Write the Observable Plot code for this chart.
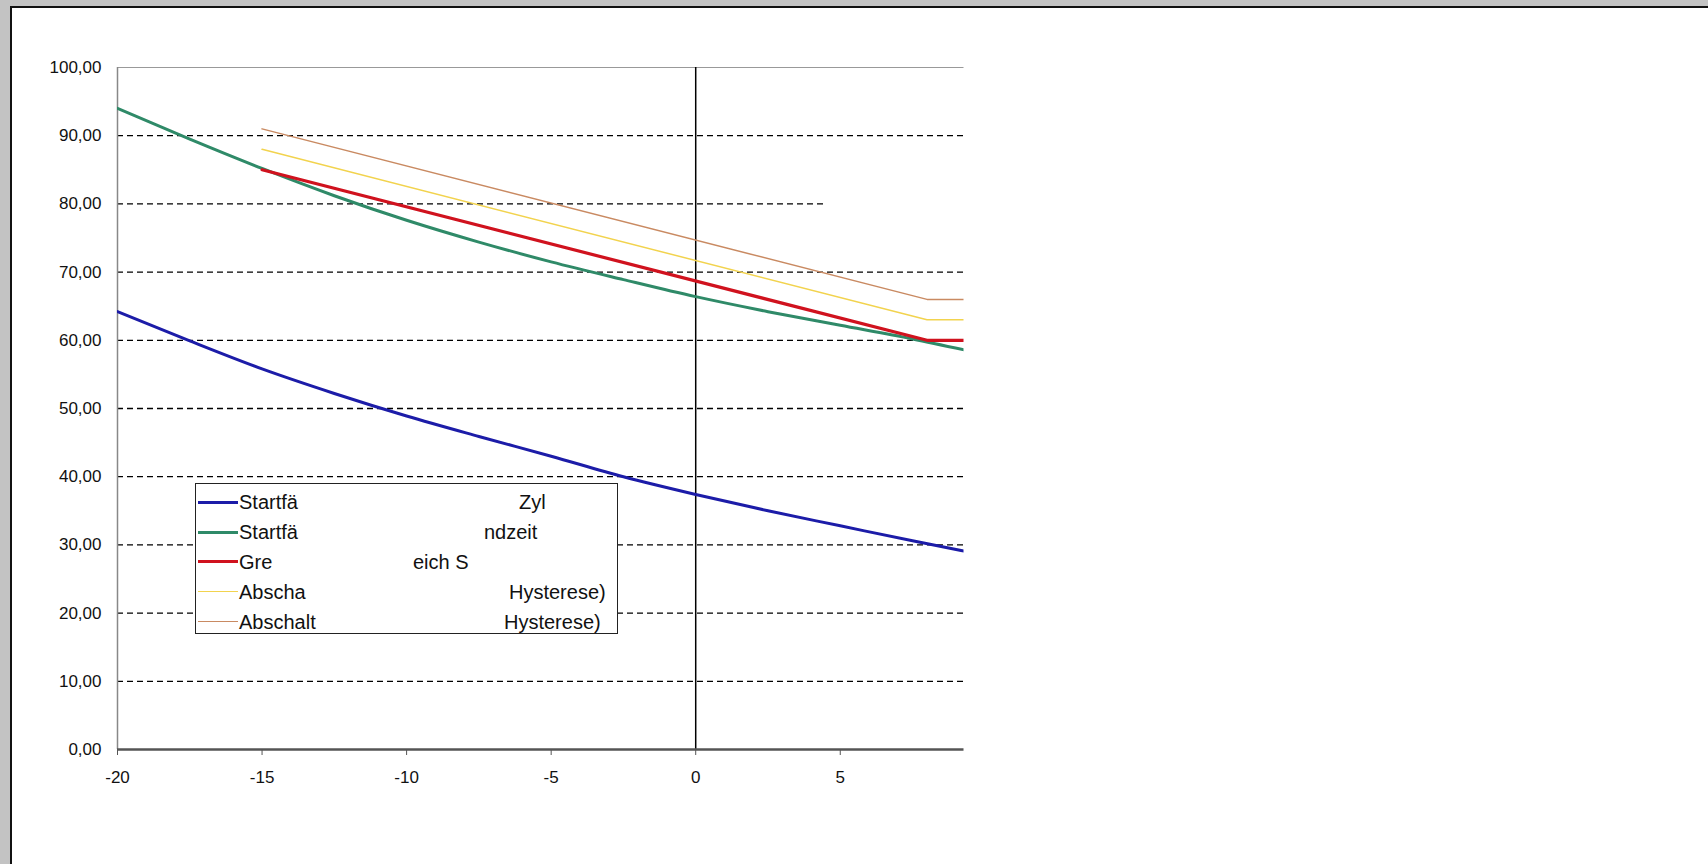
<!DOCTYPE html>
<html>
<head>
<meta charset="utf-8">
<script src="https://cdn.jsdelivr.net/npm/d3@7"></script>
<script src="https://cdn.jsdelivr.net/npm/@observablehq/plot@0.6"></script>
<style>
  html, body { margin: 0; padding: 0; background: #c3c3c3; overflow: hidden; }
  #panel { position: absolute; left: 10px; top: 6px; width: 1760px; height: 920px;
           background: #fff; border-left: 2px solid #111; border-top: 2px solid #111; }
  #chart { position: absolute; left: 12px; top: 8px; }
  #legend { position: absolute; left: 195px; top: 483px; width: 423px; height: 151px;
            box-sizing: border-box; border: 1.5px solid #222; background: #fff;
            font-family: "Liberation Sans", Arial, sans-serif; font-size: 20px; color: #111; }
  .row { position: absolute; left: 0; height: 24px; line-height: 24px; width: 100%; }
  .swatch { position: absolute; left: 2px; width: 40px; top: 12px; }
  .lt { position: absolute; left: 43px; top: 0; white-space: nowrap; }
  .rt { position: absolute; top: 0; white-space: nowrap; }
</style>
</head>
<body>
<div id="panel"></div>
<div id="chart"></div>
<div id="legend"></div>
<script>
// ---- data ----
const xs     = [-20, -17.5, -15, -12.5, -10, -7.5, -5, -2.5, 0, 2.5, 5, 7.5, 9.28];
const blue   = [64.2, 59.9, 55.8, 52.2, 48.9, 45.9, 43.0, 40.0, 37.4, 35.0, 32.8, 30.6, 29.1];
const green  = [94.0, 89.5, 85.2, 81.2, 77.6, 74.4, 71.5, 68.9, 66.4, 64.2, 62.2, 60.2, 58.6];
const limitX = [-15, 8, 10];
const red    = [85, 60, 60];
const yellow = [88, 63, 63];
const brown  = [91, 66, 66];
const xTicks = [-20, -15, -10, -5, 0, 5];
const yTicks = [0, 10, 20, 30, 40, 50, 60, 70, 80, 90, 100];
const gridFull = [10, 20, 30, 40, 50, 60, 70, 90];
const gridShort = [80];
const legendLeft  = ["Startfä", "Startfä", "Gre", "Abscha", "Abschalt"];
const legendRight = ["Zyl", "ndzeit", "eich S", "Hysterese)", "Hysterese)"];
const colors = ["#1c1ca8", "#2f8a68", "#d0121e", "#f2d34e", "#c98a62"];
const widths = [3, 3, 3.2, 1.5, 1.5];

const toRows = (X, Y) => X.map((x, i) => ({x, y: Y[i]}));
const series = [toRows(xs, blue), toRows(xs, green), toRows(limitX, red), toRows(limitX, yellow), toRows(limitX, brown)];

const chart = Plot.plot({
  width: 960, height: 800,
  marginLeft: 105, marginTop: 59, marginBottom: 59, marginRight: 8.5,
  x: {domain: [-20, 9.28]},
  y: {domain: [0, 100]},
  style: {fontFamily: "'Liberation Sans', Arial, sans-serif", fontSize: "17px", color: "#111", background: "white"},
  marks: [
    Plot.ruleY(gridFull, {stroke: "#000", strokeWidth: 1.3, strokeDasharray: "6,4"}),
    Plot.ruleY(gridShort, {x1: () => -20, x2: () => 4.5, stroke: "#000", strokeWidth: 1.3, strokeDasharray: "6,4"}),
    Plot.ruleY([100], {stroke: "#999", strokeWidth: 1}),
    Plot.ruleX([-20], {stroke: "#888", strokeWidth: 1.5}),
    Plot.ruleX([0], {stroke: "#000", strokeWidth: 1.5}),
    Plot.ruleY([0], {stroke: "#555", strokeWidth: 2.5}),
    Plot.axisX({ticks: xTicks, tickSize: 6, tickPadding: 15, tickFormat: d => String(d), stroke: "#555", label: null}),
    Plot.axisY({ticks: yTicks, tickSize: 0, tickPadding: 16, tickFormat: d => d.toFixed(2).replace(".", ","), label: null}),
    ...series.map((s, i) => Plot.line(s, {x: "x", y: "y", stroke: colors[i], strokeWidth: widths[i],
        curve: i < 2 ? "monotone-x" : "linear", clip: true}))
  ]
});
document.getElementById("chart").appendChild(chart);

// legend
const legend = document.getElementById("legend");
const rowTops = [6, 36, 66, 96, 125.5];
const rightX = [323, 288, 217, 313, 308];
legendLeft.forEach((t, i) => {
  const row = document.createElement("div");
  row.className = "row";
  row.style.top = rowTops[i] + "px";
  const sw = document.createElement("div");
  sw.className = "swatch";
  sw.style.borderTop = widths[i] + "px solid " + colors[i];
  sw.style.marginTop = (-widths[i] / 2) + "px";
  row.appendChild(sw);
  const lt = document.createElement("span");
  lt.className = "lt"; lt.textContent = t;
  row.appendChild(lt);
  const rt = document.createElement("span");
  rt.className = "rt"; rt.textContent = legendRight[i];
  rt.style.left = rightX[i] + "px";
  row.appendChild(rt);
  legend.appendChild(row);
});
</script>
</body>
</html>
